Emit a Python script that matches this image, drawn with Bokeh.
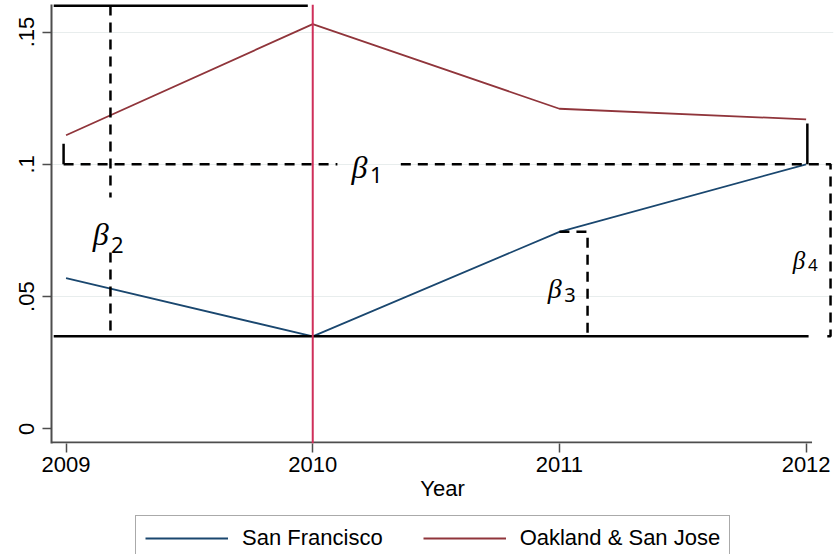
from bokeh.plotting import figure
from bokeh.layouts import column
from bokeh.models import (Range1d, FixedTicker, CustomJSTickFormatter, Span,
                          Legend, LegendItem)
from bokeh.core.properties import value
from bokeh.embed import file_html
from bokeh.resources import INLINE

# ---- data ----
years = [2009, 2010, 2011, 2012]
san_francisco = [0.057, 0.035, 0.0745, 0.100]
oakland_sj = [0.111, 0.153, 0.121, 0.117]
y_ticks = [0, 0.05, 0.1, 0.15]
x_ticks = [2009, 2010, 2011, 2012]
series_names = ["San Francisco", "Oakland & San Jose"]

# ---- annotation geometry (diff-in-diff brackets) ----
baseline = 0.035          # SF level in 2010
level = 0.100             # beta1 level
top_level = 0.16
bracket_x2 = 2009.18      # beta2 dashed vertical
bracket_x3 = 2011.114     # beta3 dashed vertical
bracket_x4 = 2012.099     # beta4 dashed vertical
x_lo, x_hi = 2008.941, 2012.111
y_lo, y_hi = -0.00548, 0.1604

SF_COLOR = "#1a476f"
OAK_COLOR = "#90353b"
VLINE_COLOR = "#cf2f5a"
FONT = "Liberation Sans"

p = figure(width=835, height=512, output_backend="svg", toolbar_location=None,
           x_range=Range1d(x_lo, x_hi), y_range=Range1d(y_lo, y_hi),
           min_border_left=51, min_border_right=2, min_border_top=4,
           min_border_bottom=69, background_fill_color="white",
           border_fill_color="white")
p.outline_line_color = None

# grid
p.xgrid.grid_line_color = None
p.ygrid.ticker = FixedTicker(ticks=[0.05, 0.1, 0.15])
p.ygrid.grid_line_color = "#e8eded"
p.ygrid.grid_line_width = 1

# axes
p.xaxis.ticker = FixedTicker(ticks=x_ticks)
p.yaxis.ticker = FixedTicker(ticks=y_ticks)
p.yaxis.formatter = CustomJSTickFormatter(
    code="if (tick == 0) return '0'; var s = tick.toFixed(2).replace(/0$/, ''); return s.replace(/^0/, '');")
for ax in (p.xaxis[0], p.yaxis[0]):
    ax.major_label_text_font = FONT
    ax.major_label_text_font_size = "22px"
    ax.major_label_text_color = "black"
    ax.major_tick_line_color = "#4d4d4d"
    ax.major_tick_line_width = 1.5
    ax.major_tick_out = 9
    ax.major_tick_in = 0
    ax.minor_tick_line_color = None
p.yaxis.axis_line_color = "#4d4d4d"
p.yaxis.axis_line_width = 2
p.yaxis.major_label_orientation = "vertical"
p.yaxis.major_label_standoff = 8
p.xaxis.axis_line_color = None
p.xaxis.major_label_standoff = 4
p.xaxis.axis_label = "Year"
p.xaxis.axis_label_text_font = FONT
p.xaxis.axis_label_text_font_size = "22px"
p.xaxis.axis_label_text_font_style = "normal"
p.xaxis.axis_label_text_color = "black"
p.xaxis.axis_label_standoff = 1

# custom x axis line (shorter than frame)
p.segment(x0=[x_lo], y0=[y_lo + 0.0004], x1=[2012.024], y1=[y_lo + 0.0004],
          line_color="#4d4d4d", line_width=2)

# vertical treatment line
p.add_layout(Span(location=2010, dimension="height", line_color=VLINE_COLOR,
                  line_width=2))

# data lines
p.line(years, san_francisco, line_color=SF_COLOR, line_width=1.8)
p.line(years, oakland_sj, line_color=OAK_COLOR, line_width=1.8)

# solid annotation lines
p.segment(x0=[2008.95, 2008.95, 2008.99, 2012.005],
          y0=[baseline, top_level, 0.1078, level],
          x1=[2012.01, 2009.98, 2008.99, 2012.005],
          y1=[baseline, top_level, level, 0.1154],
          line_color="black", line_width=[2.5, 3, 2.5, 2.5])

# dashed annotation lines
dash_xs = [
    [bracket_x2, bracket_x2],
    [bracket_x2, bracket_x2],
    [2008.99, 2010.10],
    [2010.357, bracket_x4, bracket_x4, 2012.06],
    [2011.0, bracket_x3, bracket_x3],
]
dash_ys = [
    [top_level, 0.0875],
    [0.0667, 0.0372],
    [level, level],
    [level, level, baseline, baseline],
    [san_francisco[2], san_francisco[2], baseline],
]
p.multi_line(dash_xs, dash_ys, line_color="black", line_width=2.5,
             line_dash="10 7")

# beta labels
beta_x = [2010.157, 2009.108, 2010.953, 2011.946]
beta_y = [0.0990, 0.0735, 0.0532, 0.0638]
beta_size = ["32px", "32px", "28px", "25px"]
sub_x = [2010.232, 2009.182, 2011.020, 2012.008]
sub_y = [0.0958, 0.0695, 0.0506, 0.0620]
sub_size = ["22px", "22px", "20px", "17px"]
sub_text = ["1", "2", "3", "4"]
for i in range(4):
    p.text(x=[beta_x[i]], y=[beta_y[i]], text=["β"],
           text_font=value("Liberation Serif"), text_font_style="italic",
           text_font_size=beta_size[i], text_align="left",
           text_baseline="alphabetic", text_color="black")
    p.text(x=[sub_x[i]], y=[sub_y[i]], text=[sub_text[i]],
           text_font=value("Noto Sans"), text_font_size=sub_size[i],
           text_align="left", text_baseline="alphabetic", text_color="black")

# legend strip (bottom of the legend box is cut off by the window, as in the reference)
lg = figure(width=835, height=42, output_backend="svg", toolbar_location=None,
            x_range=Range1d(0, 1), y_range=Range1d(0, 1), min_border=0,
            border_fill_color="white", background_fill_color="white")
lg.axis.visible = False
lg.grid.visible = False
lg.outline_line_color = None
# same series drawn outside this strip's visible range: only their legend swatches show
l_sf = lg.line(years, san_francisco, line_color=SF_COLOR, line_width=1.8)
l_oak = lg.line(years, oakland_sj, line_color=OAK_COLOR, line_width=1.8)
legend = Legend(items=[LegendItem(label=series_names[0], renderers=[l_sf]),
                       LegendItem(label=series_names[1], renderers=[l_oak])],
                orientation="horizontal", location=(84, -7))
legend.label_text_font = FONT
legend.label_text_font_size = "22px"
legend.label_text_color = "black"
legend.glyph_width = 83
legend.glyph_height = 24
legend.label_standoff = 14
legend.spacing = 40
legend.padding = 9
legend.margin = 0
legend.border_line_color = "#555555"
legend.border_line_width = 1.5
legend.background_fill_color = "white"
legend.background_fill_alpha = 1
lg.add_layout(legend, "center")

layout = column(p, lg, spacing=0)
open("out.html", "w").write(file_html(layout, INLINE))
